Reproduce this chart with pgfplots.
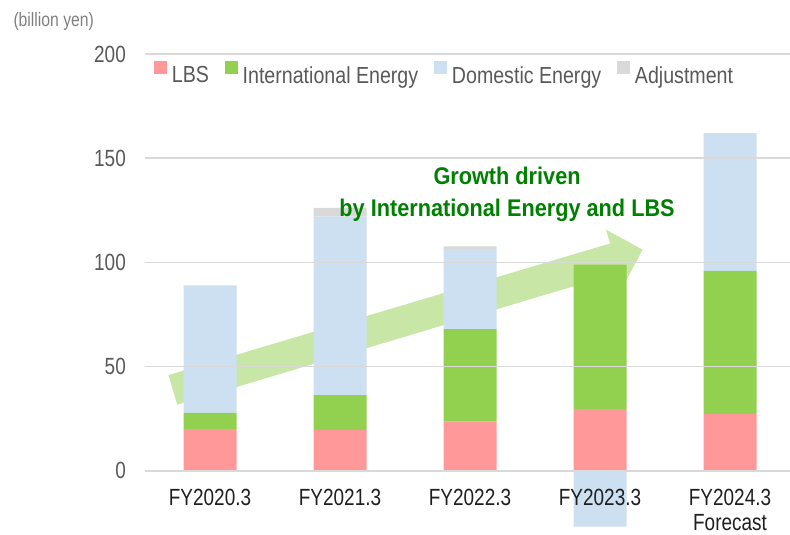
\documentclass[border=0pt]{standalone}
\usepackage{fontspec}
\setmainfont{Liberation Sans}[FakeStretch=0.81]
\newfontfamily\legfont{Liberation Sans}[FakeStretch=0.845]
\newfontfamily\titfont{Liberation Sans}[FakeStretch=0.9]
\usepackage{pgfplots}
\pgfplotsset{compat=1.18}

\definecolor{lbs}{HTML}{FF9999}
\definecolor{intl}{HTML}{92D050}
\definecolor{dom}{HTML}{CCE0F2}
\definecolor{adj}{HTML}{D9D9D9}
\definecolor{txt}{HTML}{595959}
\definecolor{grn}{HTML}{008000}

\begin{document}
\begin{tikzpicture}
\begin{axis}[
    x=130bp, y=2.0833bp,
    xmin=-0.5, xmax=4.4615,
    ymin=-30.86, ymax=200,
    clip=false,
    axis on top,
    ybar stacked, stack negative=separate,
    bar width=53bp,
    axis line style={draw=none},
    major tick length=0pt,
    ytick={0,50,...,200},
    ymajorgrids,
    grid style={draw=adj, line width=1.7bp},
    xtick={0,...,4},
    xticklabels={FY2020.3,FY2021.3,FY2022.3,FY2023.3,{FY2024.3\\Forecast}},
    xticklabel style={align=center, inner sep=0pt, yshift=46bp,
        text=black!88, font=\fontsize{23.5}{25.5}\selectfont},
    yticklabel style={inner sep=0pt, xshift=-19bp,
        text=txt, font=\fontsize{23.5}{27}\selectfont},
    /pgf/number format/assume math mode=true,
    legend columns=4,
    legend style={at={(axis cs:-0.4308,191)}, anchor=west,
        draw=none, fill=none, inner sep=0pt,
        column sep=5bp,
        nodes={inner sep=0pt, text=txt},
        font=\legfont\fontsize{23.3}{28}\selectfont,
        /tikz/every even column/.append style={column sep=16bp}},
    legend image code/.code={\fill[#1] (0bp,2bp) rectangle (12.7bp,14.7bp);},
]

% values in billion yen
\addplot[fill=lbs, draw=none] coordinates {(0,19.9) (1,19.5) (2,23.5) (3,29.5) (4,27.1)};
\addlegendentry{LBS}
\addplot[fill=intl, draw=none] coordinates {(0,7.9) (1,16.8) (2,44.5) (3,69.4) (4,68.8)};
\addlegendentry{International Energy}
\addplot[fill=dom, draw=none] coordinates {(0,61.2) (1,85.6) (2,38.4) (3,-26.9) (4,66.1)};
\addlegendentry{Domestic Energy}
\addplot[fill=adj, draw=none] coordinates {(0,0) (1,4.3) (2,1.3) (3,0) (4,0)};
\addlegendentry{Adjustment}

% growth arrow
\fill[intl, fill opacity=0.5]
    (axis cs:-0.319,45.9) -- (axis cs:3.078,109.1) -- (axis cs:3.046,115.7)
    -- (axis cs:3.328,106.1) -- (axis cs:3.177,88.4) -- (axis cs:3.145,95.0)
    -- (axis cs:-0.252,31.7) -- cycle;

\coordinate (note) at (axis cs:2.285,132.8);
\coordinate (unit) at (axis cs:-1.513,215.4);
\coordinate (bl) at (axis cs:-1.6154,-30.86);
\coordinate (tr) at (axis cs:4.4615,225.94);
\end{axis}

\node[text=grn, align=center, font=\titfont\bfseries\fontsize{24.2}{32}\selectfont]
    at (note) {Growth driven\\by International Energy and LBS};
\node[anchor=west, inner sep=0pt, text=black!50, font=\fontsize{19.5}{22}\selectfont]
    at (unit) {(billion yen)};

\pgfresetboundingbox
\path[use as bounding box] (bl) rectangle (tr);
\end{tikzpicture}
\end{document}
